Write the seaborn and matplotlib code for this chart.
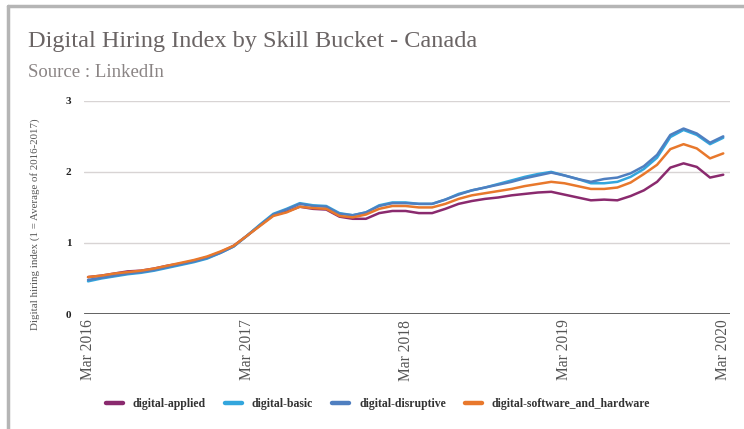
import numpy as np
import pandas as pd
import seaborn as sns
import matplotlib.pyplot as plt
from matplotlib.lines import Line2D

# --- Data (monthly, Mar 2016 .. Mar 2020) ---
months = pd.date_range("2016-03-01", "2020-03-01", freq="MS")
tick_labels = ["Mar 2016", "Mar 2017", "Mar 2018", "Mar 2019", "Mar 2020"]

digital_applied = [0.52, 0.54, 0.57, 0.60, 0.61, 0.64, 0.68, 0.71, 0.75, 0.80,
                   0.87, 0.96, 1.10, 1.25, 1.39, 1.44, 1.51, 1.48, 1.47, 1.37,
                   1.34, 1.34, 1.42, 1.45, 1.45, 1.42, 1.42, 1.48, 1.55, 1.59,
                   1.62, 1.64, 1.67, 1.69, 1.71, 1.72, 1.68, 1.64, 1.60, 1.61,
                   1.60, 1.66, 1.74, 1.86, 2.06, 2.12, 2.07, 1.92, 1.96]
digital_basic = [0.46, 0.50, 0.53, 0.56, 0.58, 0.61, 0.65, 0.69, 0.73, 0.78,
                 0.86, 0.95, 1.10, 1.26, 1.41, 1.48, 1.56, 1.53, 1.52, 1.42,
                 1.39, 1.43, 1.53, 1.57, 1.57, 1.55, 1.55, 1.61, 1.69, 1.74,
                 1.78, 1.83, 1.88, 1.93, 1.97, 2.00, 1.95, 1.90, 1.84, 1.84,
                 1.86, 1.93, 2.04, 2.20, 2.49, 2.59, 2.52, 2.39, 2.48]
digital_disruptive = [0.48, 0.51, 0.54, 0.57, 0.59, 0.62, 0.66, 0.70, 0.74, 0.79,
                      0.86, 0.95, 1.10, 1.25, 1.40, 1.47, 1.55, 1.52, 1.51, 1.41,
                      1.39, 1.43, 1.52, 1.56, 1.56, 1.55, 1.55, 1.61, 1.68, 1.74,
                      1.78, 1.82, 1.86, 1.91, 1.95, 1.99, 1.95, 1.90, 1.86, 1.90,
                      1.92, 1.98, 2.08, 2.24, 2.52, 2.61, 2.54, 2.41, 2.50]
digital_software = [0.52, 0.54, 0.57, 0.59, 0.61, 0.64, 0.68, 0.72, 0.76, 0.81,
                    0.88, 0.96, 1.10, 1.24, 1.38, 1.43, 1.51, 1.49, 1.48, 1.38,
                    1.36, 1.40, 1.48, 1.52, 1.52, 1.50, 1.50, 1.55, 1.62, 1.67,
                    1.70, 1.73, 1.76, 1.80, 1.83, 1.86, 1.84, 1.80, 1.76, 1.76,
                    1.78, 1.85, 1.97, 2.10, 2.32, 2.39, 2.33, 2.19, 2.26]

buckets = ["digital-applied", "digital-basic", "digital-disruptive",
           "digital-software_and_hardware"]
colors = ["#8a2a6e", "#33a6dd", "#4f7fc0", "#e8782c"]

df = pd.DataFrame({"month": np.arange(len(months))})
df["digital-applied"] = digital_applied
df["digital-basic"] = digital_basic
df["digital-disruptive"] = digital_disruptive
df["digital-software_and_hardware"] = digital_software
long = df.melt(id_vars="month", var_name="bucket", value_name="index")

# --- Plot ---
sns.set_style("white")
plt.rcParams["font.family"] = ["Liberation Serif", "DejaVu Serif"]

fig = plt.figure(figsize=(7.44, 4.29), dpi=100)
ax = fig.add_axes([0.113, 0.268, 0.868, 0.497])

for y in [1, 2, 3]:
    ax.axhline(y, color="#d8d4d4", lw=1.0, zorder=0)

sns.lineplot(data=long, x="month", y="index", hue="bucket", hue_order=buckets,
             palette=colors, linewidth=1.8, legend=False, ax=ax)

ax.axhline(0, color="#333333", lw=1.8, zorder=3)

ax.set_xlim(-0.3, 48.5)
ax.set_ylim(0, 3)
ax.set_xticks([0, 12, 24, 36, 48])
ax.set_xticklabels(tick_labels, rotation=90, fontsize=11.2, color="#555555")
ax.set_yticks([0, 1, 2, 3])
ax.set_yticklabels(["0", "1", "2", "3"], fontsize=8, fontweight="bold", color="#222222")
ax.tick_params(axis="both", length=0)
ax.tick_params(axis="y", pad=9)
ax.tick_params(axis="x", pad=4)
ax.set_xlabel("")
ax.set_ylabel("Digital hiring index (1 = Average of 2016-2017)", fontsize=7.8,
              color="#555555")
ax.yaxis.set_label_coords(-0.068, 0.42)
sns.despine(ax=ax, left=True, bottom=True)

fig.text(0.038, 0.890, "Digital Hiring Index by Skill Bucket - Canada", fontsize=17.5,
         color="#6a6464", va="baseline")
fig.text(0.038, 0.8205, "Source : LinkedIn", fontsize=13.5, color="#8a8484",
         va="baseline")

handles = [Line2D([0], [0], color=c, lw=3.2) for c in colors]
fig.legend(handles, buckets, loc="center", bbox_to_anchor=(0.508, 0.058), ncol=4,
           frameon=False, handlelength=1.45, columnspacing=1.6, handletextpad=0.85,
           prop={"size": 8.5, "weight": "bold"}, labelcolor="#333333")

# gray frame (left and top edges)
fig.add_artist(Line2D([0.011, 0.011], [0, 0.986], transform=fig.transFigure,
                      color="#b5b5b5", lw=2.5))
fig.add_artist(Line2D([0.011, 1.0], [0.986, 0.986], transform=fig.transFigure,
                      color="#b5b5b5", lw=2.5))

fig.savefig("out.png", dpi=100)
